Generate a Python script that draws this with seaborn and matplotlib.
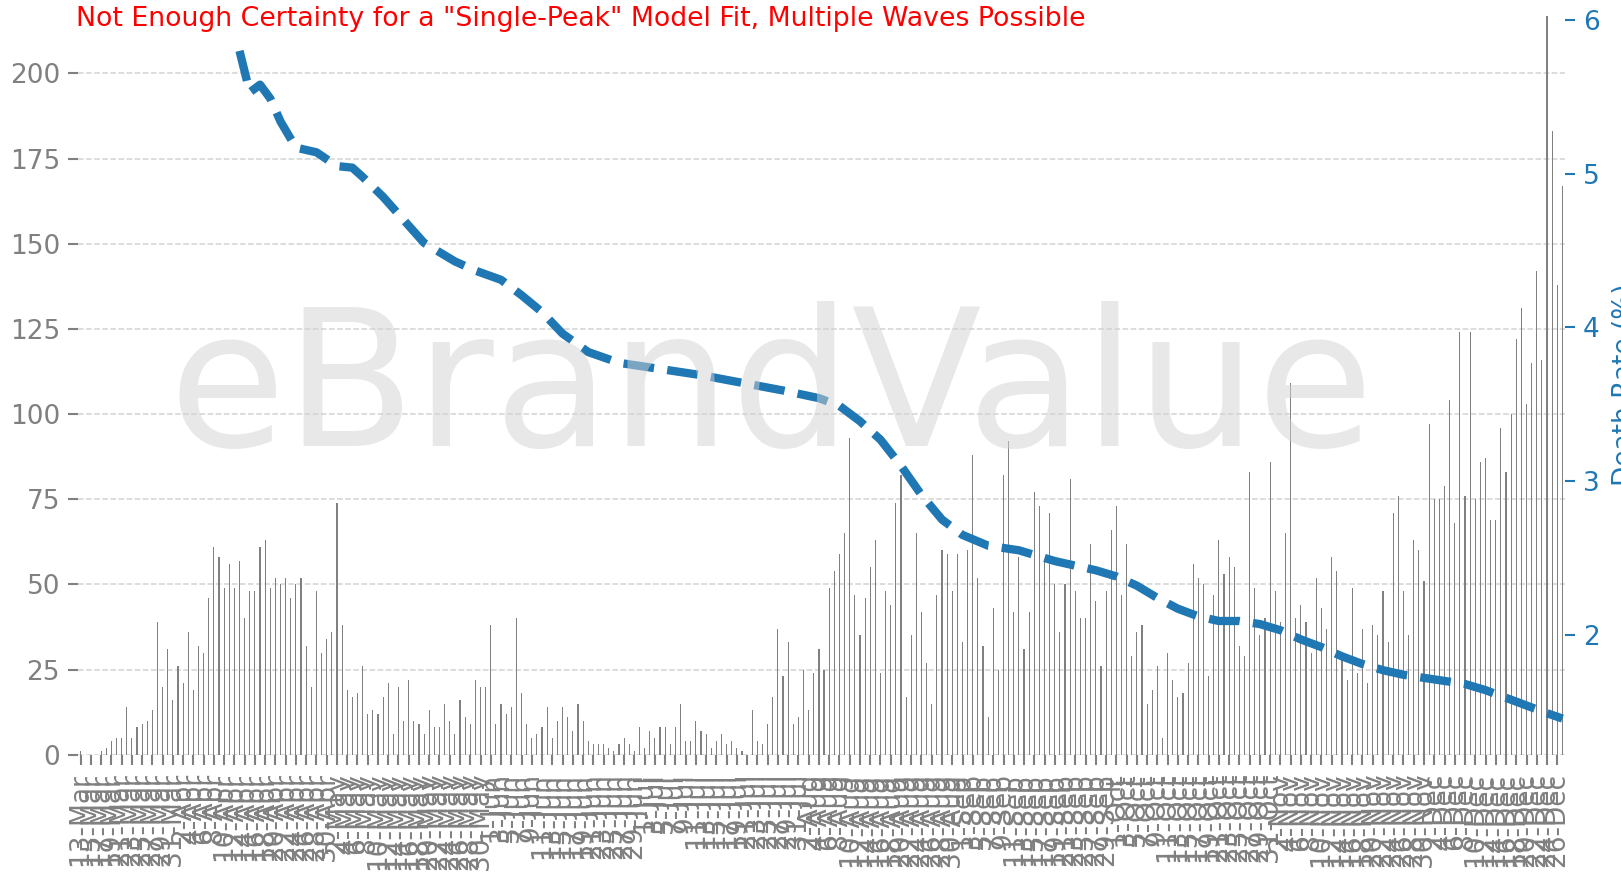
import numpy as np
import pandas as pd
import matplotlib
matplotlib.use("Agg")
import matplotlib.pyplot as plt
import seaborn as sns

# ---------------- data ----------------
start_date = "2020-03-13"

daily_deaths = [
    1, 0, 0, 0, 1, 2, 4, 5, 5, 14, 5, 8, 9, 10, 13,
    39, 20, 31, 16, 26, 21, 36, 19, 32, 30, 46, 61, 58, 49, 56,
    49, 57, 40, 48, 48, 61, 63, 49, 52, 50, 52, 46, 50, 52, 32,
    20, 48, 30, 34, 36, 74, 38, 19, 17, 18, 26, 12, 13, 12, 17,
    21, 6, 20, 10, 22, 10, 9, 6, 13, 8, 8, 15, 10, 6,
    16, 11, 9, 22, 20, 20, 38, 9, 15, 12, 14, 40, 18, 9, 5,
    6, 8, 14, 5, 10, 14, 11, 7, 15, 10, 4, 3, 3, 3, 2,
    1, 3, 5, 3, 1, 8, 2, 7, 5, 8, 8, 3, 8, 15, 4,
    4, 10, 7, 6, 2, 4, 6, 3, 4, 2, 1, 0,
    13, 4, 3, 9, 17, 37, 23, 33, 9, 11, 25, 13, 24, 31, 25,
    49, 54, 59, 65, 93, 47, 35, 46, 55, 63, 24, 48, 44, 74, 82,
    17, 35, 65, 42, 27, 15, 47, 60, 59, 48, 59, 33, 60, 88, 52,
    32, 11, 43, 25, 82, 92, 42, 58, 31, 42, 77, 73, 57, 71, 50,
    36, 50, 81, 48, 40, 40, 62, 45, 26, 48, 66, 73, 47, 62, 29,
    36, 38, 15, 19, 26, 5, 30, 22, 17, 18, 27, 56, 52, 50, 23,
    47, 63, 53, 58, 55, 32, 29, 83, 49, 35, 40, 86, 48, 39, 65,
    109, 40, 44, 39, 30, 52, 43, 37, 58, 54, 30, 22, 49, 24, 37,
    21, 38, 35, 48, 33, 71, 76, 48, 35, 63, 60, 51, 97, 75, 75,
    79, 104, 68, 124, 76, 124, 75, 86, 87, 69, 69, 96, 83, 100, 122,
    131, 103, 115, 142, 116, 218, 183, 138, 167,
]

rate_dates = [
    "13-Apr", "15-Apr", "17-Apr", "19-Apr", "21-Apr", "24-Apr", "28-Apr",
    "2-May", "5-May", "7-May", "11-May", "15-May", "19-May", "25-May", "29-May",
    "3-Jun", "7-Jun", "11-Jun", "15-Jun", "20-Jun", "26-Jun",
    "4-Jul", "12-Jul", "20-Jul", "28-Jul",
    "4-Aug", "8-Aug", "12-Aug", "16-Aug", "20-Aug", "24-Aug", "28-Aug",
    "1-Sep", "6-Sep", "12-Sep", "15-Sep", "19-Sep", "23-Sep", "27-Sep",
    "1-Oct", "5-Oct", "9-Oct", "13-Oct", "17-Oct", "21-Oct", "25-Oct", "29-Oct",
    "2-Nov", "6-Nov", "10-Nov", "14-Nov", "18-Nov", "22-Nov", "26-Nov", "30-Nov",
    "4-Dec", "8-Dec", "12-Dec", "16-Dec", "20-Dec", "24-Dec", "27-Dec",
]
rate_values = [
    5.80, 5.53, 5.58, 5.49, 5.34, 5.17, 5.14,
    5.05, 5.04, 4.98, 4.85, 4.70, 4.55, 4.43, 4.37,
    4.31, 4.21, 4.10, 3.96, 3.84, 3.77,
    3.73, 3.69, 3.64, 3.59,
    3.54, 3.49, 3.39, 3.27, 3.10, 2.91, 2.75,
    2.65, 2.58, 2.55, 2.52, 2.48, 2.45, 2.42,
    2.38, 2.32, 2.24, 2.17, 2.12, 2.09, 2.09, 2.07,
    2.03, 1.97, 1.92, 1.86, 1.81, 1.77, 1.74, 1.72,
    1.70, 1.68, 1.64, 1.59, 1.54, 1.49, 1.455,
]

left_ticks = [0, 25, 50, 75, 100, 125, 150, 175, 200]
right_ticks = [2, 3, 4, 5, 6]
title_text = 'Not Enough Certainty for a "Single-Peak" Model Fit, Multiple Waves Possible'
watermark_text = "eBrandValue"
right_label = "Death Rate (%)"

# ---------------- figure ----------------
dates = pd.date_range(start_date, periods=len(daily_deaths))
day_labels = [f"{d.day}-{d.strftime('%b')}" for d in dates]
N = len(day_labels)

W, H = 1621, 873
fig = plt.figure(figsize=(W / 100, H / 100), dpi=100)
ax = fig.add_axes([78 / W, (H - 754.7) / H, (1565 - 78) / W, (754.7 - 15.5) / H])

df = pd.DataFrame({"day": day_labels, "deaths": daily_deaths})
sns.barplot(data=df, x="day", y="deaths", order=day_labels, ax=ax,
            color="#808080", saturation=1, width=0.22, linewidth=0, errorbar=None)

ax.set_xlim(-0.5, N - 0.5)
ax.set_ylim(0, 217)
ax.set_yticks(left_ticks)
ax.set_xticks(range(0, N, 2))
ax.set_xticklabels(day_labels[::2], rotation=90)
ax.tick_params(axis="both", colors="gray", labelsize=19, length=7, width=1.5, pad=6)
ax.grid(axis="y", color="lightgray", linestyle="--", linewidth=1.1)
ax.grid(axis="x", visible=False)
ax.set_axisbelow(True)
for s in ax.spines.values():
    s.set_visible(False)
ax.set_xlabel("")
ax.set_ylabel("")

ax2 = ax.twinx()
rate_pos = [day_labels.index(d) for d in rate_dates]
sns.lineplot(x=rate_pos, y=rate_values, ax=ax2, color="#1f77b4",
             linewidth=6, linestyle="--")
ax2.set_xlim(-0.5, N - 0.5)
ax2.set_ylim(1.22, 6.03)
ax2.set_yticks(right_ticks)
ax2.tick_params(axis="y", colors="#1f77b4", labelsize=19, length=7, width=1.5, pad=6)
ax2.set_ylabel(right_label, color="#1f77b4", fontsize=19, labelpad=9)
ax2.grid(False)
for s in ax2.spines.values():
    s.set_visible(False)

fig.text(75.5 / W, (H - 26) / H, title_text, color="red", fontsize=19.3,
         ha="left", va="baseline")
fig.text(771 / W, (H - 446) / H, watermark_text, fontsize=137, color="lightgray",
         alpha=0.5, ha="center", va="baseline")

fig.savefig("out.png", dpi=100)
